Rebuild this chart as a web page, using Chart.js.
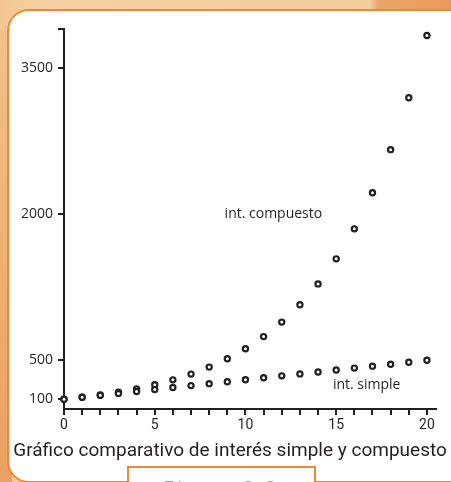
<!DOCTYPE html>
<html>
<head>
<meta charset="utf-8">
<script src="https://cdn.jsdelivr.net/npm/chart.js@4"></script>
<style>
  html, body { margin: 0; padding: 0; }
  body {
    width: 451px; height: 482px; overflow: hidden; position: relative;
    background: linear-gradient(90deg, #f3c592 0px, #f5d0a2 40px, #f3cc9c 370px, #eaa468 378px, #e99a5c 451px);
  }
  #side {
    position: absolute; left: 0; top: 30px; width: 12px; height: 452px;
    background: linear-gradient(180deg, #f2c08c, #e9a062);
  }
  #panel {
    position: absolute; left: 7px; top: 9px; width: 470px; height: 474px;
    background: #fff; border: 2px solid #ee8a2c; border-radius: 22px; box-sizing: border-box;
  }
  #fig {
    position: absolute; left: 127px; top: 466px; width: 189px; height: 34px;
    background: #fff; border: 2px solid #ee8a2c; box-sizing: border-box;
    font-family: Roboto, sans-serif; font-size: 17px; color: #9a9a9a;
    letter-spacing: 4px; text-align: center; line-height: 38px;
  }
  #wrap { position: absolute; left: 0; top: 0; width: 451px; height: 482px; }
</style>
</head>
<body>
<div id="side"></div>
<div id="panel"></div>
<div id="fig">Figura 3.3</div>
<div id="wrap"><canvas id="chart" width="451" height="482"></canvas></div>
<script>
// años y montos (capital 100)
var years = [0, 1, 2, 3, 4, 5, 6, 7, 8, 9, 10, 11, 12, 13, 14, 15, 16, 17, 18, 19, 20];
var simpleInt = [100, 120, 140, 160, 180, 200, 220, 240, 260, 280, 300, 320, 340, 360, 380, 400, 420, 440, 460, 480, 500];
var compoundInt = [100, 120, 144, 173, 207, 249, 299, 358, 430, 516, 619, 743, 892, 1070, 1284, 1541, 1849, 2219, 2662, 3195, 3834];
var yTickLabels = [100, 500, 2000, 3500];
var xTickLabels = [0, 5, 10, 15, 20];

var ink = '#231f20';

function toPoints(ys) {
    return years.map(function (x, i) { return { x: x, y: ys[i] }; });
}

var extraText = {
    id: 'extraText',
    afterDraw: function (chart) {
        var ctx = chart.ctx;
        var xs = chart.scales.x, ys = chart.scales.y;
        ctx.save();
        ctx.fillStyle = ink;
        ctx.textBaseline = 'middle';
        ctx.textAlign = 'left';
        ctx.font = '14px "Open Sans"';
        ctx.fillText('int. compuesto', xs.getPixelForValue(8.85), ys.getPixelForValue(2000));
        ctx.fillText('int. simple', xs.getPixelForValue(14.82), ys.getPixelForValue(246));
        ctx.font = '19px Roboto';
        ctx.textAlign = 'center';
        ctx.fillText('Gráfico comparativo de interés simple y compuesto', 230, 451);
        ctx.restore();
    }
};

var ctx = document.getElementById('chart').getContext('2d');
var myChart = new Chart(ctx, {
    type: 'scatter',
    data: {
        datasets: [{
            label: 'int. simple',
            data: toPoints(simpleInt),
            pointRadius: 2.6,
            pointBorderWidth: 2.2,
            pointBorderColor: ink,
            pointBackgroundColor: '#fff'
        }, {
            label: 'int. compuesto',
            data: toPoints(compoundInt),
            pointRadius: 2.6,
            pointBorderWidth: 2.2,
            pointBorderColor: ink,
            pointBackgroundColor: '#fff'
        }]
    },
    options: {
        responsive: false,
        animation: false,
        clip: false,
        layout: { padding: { left: 0, top: 29, right: 15, bottom: 43 } },
        plugins: {
            legend: { display: false },
            tooltip: { enabled: false }
        },
        scales: {
            x: {
                type: 'linear',
                min: 0,
                max: 20.5,
                afterFit: function (s) { s.height = 30; },
                afterBuildTicks: function (s) {
                    s.ticks = years.map(function (v) { return { value: v }; });
                },
                ticks: {
                    autoSkip: false,
                    maxRotation: 0,
                    padding: 2,
                    color: ink,
                    font: { family: 'Roboto', size: 14 },
                    callback: function (v) { return xTickLabels.indexOf(v) >= 0 ? String(v) : ''; }
                },
                grid: { drawOnChartArea: false, drawTicks: true, tickLength: 6, color: ink, lineWidth: 2 },
                border: { display: true, color: ink, width: 2 }
            },
            y: {
                type: 'linear',
                min: 0,
                max: 3900,
                afterFit: function (s) { s.width = 64; },
                afterBuildTicks: function (s) {
                    s.ticks = yTickLabels.concat([3900]).map(function (v) { return { value: v }; });
                },
                ticks: {
                    padding: 5,
                    color: ink,
                    font: { family: 'Open Sans', size: 14 },
                    callback: function (v) { return yTickLabels.indexOf(v) >= 0 ? String(v) : ''; }
                },
                grid: { drawOnChartArea: false, drawTicks: true, tickLength: 6, color: ink, lineWidth: 2 },
                border: { display: true, color: ink, width: 2 }
            }
        }
    },
    plugins: [extraText]
});
</script>
</body>
</html>
